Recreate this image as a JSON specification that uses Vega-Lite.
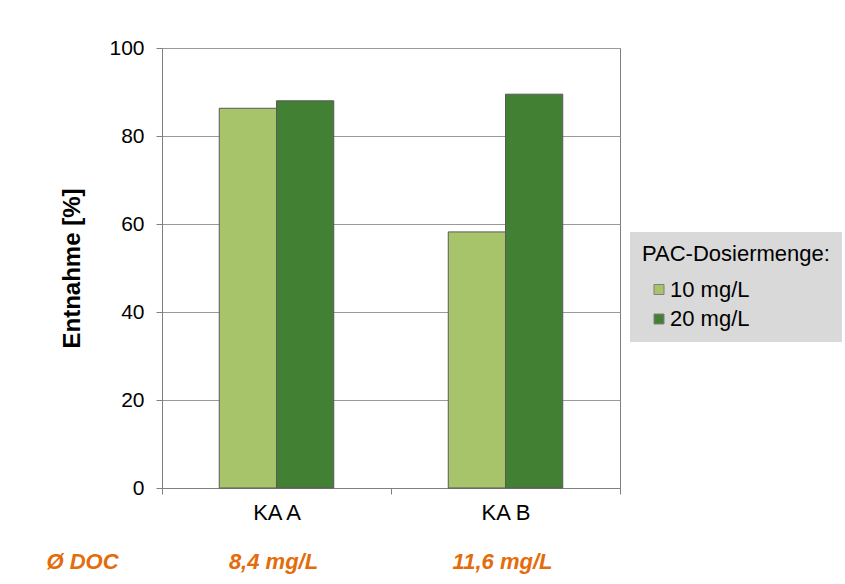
{
  "$schema": "https://vega.github.io/schema/vega-lite/v6.json",
  "width": 458,
  "height": 440,
  "autosize": {"type": "none"},
  "padding": {"left": 162, "top": 48, "right": 225, "bottom": 96},
  "background": "white",
  "config": {
    "font": "Liberation Sans",
    "view": {"stroke": "#7f7f7f", "strokeWidth": 1}
  },
  "datasets": {
    "entnahme": [
      {"Anlage": "KA A", "Dosis": "10 mg/L", "Entnahme": 86.3},
      {"Anlage": "KA A", "Dosis": "20 mg/L", "Entnahme": 88.0},
      {"Anlage": "KA B", "Dosis": "10 mg/L", "Entnahme": 58.2},
      {"Anlage": "KA B", "Dosis": "20 mg/L", "Entnahme": 89.5}
    ],
    "doc": [
      {"Anlage": "KA A", "DOC": "8,4 mg/L"},
      {"Anlage": "KA B", "DOC": "11,6 mg/L"}
    ],
    "doclabel": [
      {"Anlage": "KA A", "Label": "Ø DOC"}
    ]
  },
  "layer": [
    {
      "data": {"name": "entnahme"},
      "mark": {"type": "bar", "stroke": "#595959", "strokeWidth": 1},
      "encoding": {
        "x": {
          "field": "Anlage", "type": "nominal",
          "scale": {"paddingInner": 0, "paddingOuter": 0},
          "axis": {
            "title": null, "labelAngle": 0, "labelFontSize": 22, "labelColor": "black",
            "labelPadding": 8, "tickBand": "extent", "tickSize": 6,
            "domainColor": "#808080", "tickColor": "#808080", "grid": false
          }
        },
        "xOffset": {
          "field": "Dosis", "type": "nominal",
          "scale": {"paddingInner": 0, "paddingOuter": 1}
        },
        "y": {
          "field": "Entnahme", "type": "quantitative",
          "scale": {"domain": [0, 100], "nice": false},
          "axis": {
            "title": "Entnahme [%]", "values": [0, 20, 40, 60, 80, 100],
            "titleFontSize": 24, "titleFontWeight": "bold", "titleColor": "black",
            "titlePadding": 24, "labelFontSize": 21, "labelColor": "black",
            "labelPadding": 12, "tickSize": 6, "gridColor": "#999999",
            "domainColor": "#808080", "tickColor": "#808080"
          }
        },
        "color": {
          "field": "Dosis", "type": "nominal",
          "scale": {"domain": ["10 mg/L", "20 mg/L"], "range": ["#A8C46B", "#428133"]},
          "legend": {
            "orient": "none", "legendX": 468, "legendY": 184,
            "title": "PAC-Dosiermenge:", "titleFontSize": 22, "titleFontWeight": "normal",
            "titleColor": "black", "titleLimit": 400, "labelLimit": 300,
            "labelFontSize": 22, "labelColor": "black",
            "fillColor": "#d9d9d9", "padding": 12, "symbolType": "square",
            "symbolSize": 100, "symbolStrokeColor": "#7f7f7f", "symbolStrokeWidth": 1,
            "symbolOffset": 6, "labelOffset": 0, "rowPadding": 7.5, "titlePadding": 12.5
          }
        }
      }
    },
    {
      "data": {"name": "doc"},
      "mark": {"type": "text", "fontSize": 22, "fontWeight": "bold", "fontStyle": "italic", "color": "#E46C0A", "baseline": "middle", "dx": -3},
      "encoding": {
        "x": {"field": "Anlage", "type": "nominal"},
        "y": {"datum": -16.8},
        "text": {"field": "DOC"}
      }
    },
    {
      "data": {"name": "doclabel"},
      "mark": {"type": "text", "fontSize": 22, "fontWeight": "bold", "fontStyle": "italic", "color": "#E46C0A", "baseline": "middle", "dx": -194},
      "encoding": {
        "x": {"field": "Anlage", "type": "nominal"},
        "y": {"datum": -16.8},
        "text": {"field": "Label"}
      }
    }
  ]
}
